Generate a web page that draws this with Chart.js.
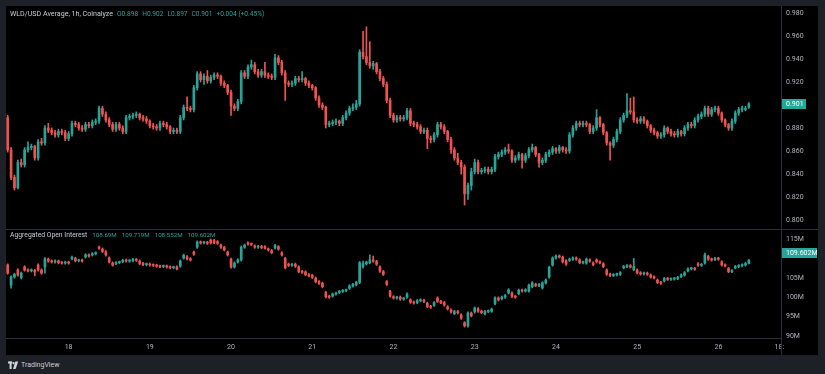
<!DOCTYPE html>
<html><head><meta charset="utf-8">
<script src="https://cdn.jsdelivr.net/npm/chart.js@4/dist/chart.umd.min.js"></script>
<style>
html,body{margin:0;padding:0;background:#1e2028;width:825px;height:374px;overflow:hidden;font-family:Roboto,"Liberation Sans",sans-serif;}
#pane{position:absolute;left:6px;top:6px;width:812px;height:349px;background:#000;}
#pc{position:absolute;left:6px;top:6px;}
#oc{position:absolute;left:6px;top:230px;}
#sep{position:absolute;left:6px;top:229px;width:812px;height:1px;background:#2a2e39;}
#vline{position:absolute;left:781px;top:338px;width:1px;height:17px;background:#2a2e39;}
.t{position:absolute;left:10px;font-size:7.1px;line-height:9px;white-space:pre;color:#c9ccd4;}
.t span{color:#26a69a;font-size:6.6px;margin-left:4px;}
.t.o span{font-size:6.2px;margin-left:5px;}
#foot{position:absolute;left:8px;top:360px;height:10px;}
#foot span{position:absolute;left:13px;top:0;font-size:7px;line-height:10px;color:#c9ccd4;white-space:pre;}
</style></head>
<body>
<div id="pane"></div>
<canvas id="pc" width="812" height="223"></canvas>
<div id="sep"></div>
<canvas id="oc" width="812" height="125"></canvas>
<div id="vline"></div>

<div class="t" style="top:9px;">WLD/USD Average, 1h, Coinalyze<span>O0.898</span><span>H0.902</span><span>L0.897</span><span>C0.901</span><span>+0.004 (+0.45%)</span></div>
<div class="t o" style="top:231px;font-size:6.8px;">Aggregated Open Interest<span>108.69M</span><span>109.719M</span><span>108.552M</span><span>109.602M</span></div>

<div id="foot"><svg width="11" height="9" viewBox="0 0 11 9" style="position:absolute;left:0;top:1px"><rect x="0" y="0.5" width="4.2" height="2" fill="#d1d4dc"/><rect x="1.6" y="0.5" width="2" height="7.5" fill="#d1d4dc"/><circle cx="5.6" cy="2.2" r="1.1" fill="#d1d4dc"/><polygon points="7.4,0.5 10.2,0.5 7.6,8 5,8" fill="#d1d4dc"/></svg><span>TradingView</span></div>

<script>
// ---------- data ----------
const startDay = 17, startHour = 6, slotCount = 229;
const dayTicks = ['18','19','20','21','22','23','24','25','26'];
const endTick = '18:';
const priceTicks = [0.80, 0.82, 0.84, 0.86, 0.88, 0.92, 0.94, 0.96, 0.98];
const oiTicks = [90, 95, 100, 105, 115];

const priceOpen = [
.889,.861,.837,.828,.850,.848,.861,.863,.864,.854,
.868,.867,.880,.878,.876,.874,.877,.876,.871,.875,
.884,.883,.880,.879,.883,.882,.885,.886,.897,.892,
.887,.883,.879,.883,.880,.877,.889,.890,.891,.892,
.889,.888,.886,.882,.881,.880,.884,.883,.881,.877,
.878,.877,.889,.898,.897,.896,.915,.927,.922,.925,
.921,.924,.926,.925,.919,.917,.911,.899,.897,.903,
.928,.925,.933,.935,.929,.926,.929,.926,.925,.924,
.941,.937,.928,.919,.918,.919,.923,.922,.923,.919,
.917,.915,.906,.900,.898,.883,.884,.885,.886,.884,
.889,.893,.897,.898,.901,.946,.942,.937,.934,.936,
.929,.923,.918,.904,.891,.887,.889,.888,.889,.895,
.884,.883,.881,.877,.878,.871,.870,.874,.883,.881,
.877,.870,.861,.854,.850,.846,.823,.830,.842,.850,
.842,.843,.844,.842,.844,.855,.857,.859,.861,.860,
.852,.854,.857,.852,.856,.861,.863,.857,.850,.852,
.857,.859,.862,.860,.863,.861,.860,.874,.880,.884,
.883,.884,.883,.877,.880,.889,.883,.876,.867,.865,
.870,.877,.887,.891,.895,.894,.887,.886,.888,.886,
.882,.878,.876,.873,.874,.880,.877,.875,.874,.877,
.875,.880,.883,.882,.887,.890,.892,.897,.892,.896,
.897,.893,.887,.883,.880,.886,.893,.896,.896,.898];
const priceHigh = [
.891,.863,.839,.852,.853,.863,.868,.866,.865,.870,
.871,.882,.884,.880,.878,.879,.879,.878,.877,.886,
.886,.885,.882,.885,.885,.887,.888,.899,.899,.894,
.889,.885,.885,.885,.882,.891,.892,.893,.894,.893,
.891,.890,.887,.884,.883,.886,.886,.885,.882,.880,
.880,.891,.900,.907,.899,.917,.929,.929,.927,.930,
.926,.928,.928,.926,.921,.918,.913,.901,.905,.930,
.930,.935,.939,.937,.931,.931,.937,.928,.927,.944,
.943,.939,.930,.921,.921,.925,.925,.929,.924,.921,
.918,.916,.908,.902,.899,.886,.887,.888,.887,.891,
.895,.899,.901,.904,.948,.964,.968,.955,.938,.937,
.931,.925,.920,.906,.893,.891,.891,.891,.897,.897,
.886,.885,.883,.880,.880,.873,.876,.885,.885,.883,
.878,.872,.863,.858,.852,.848,.832,.845,.853,.852,
.845,.846,.846,.846,.857,.859,.861,.863,.866,.861,
.856,.859,.858,.858,.863,.866,.864,.858,.854,.859,
.861,.864,.863,.865,.864,.863,.876,.882,.886,.886,
.886,.886,.884,.882,.896,.890,.884,.877,.868,.872,
.879,.889,.893,.910,.906,.907,.889,.890,.890,.887,
.883,.880,.877,.876,.882,.881,.879,.877,.879,.878,
.882,.885,.885,.889,.892,.894,.899,.899,.898,.899,
.899,.894,.888,.884,.888,.895,.898,.899,.899,.902];
const priceLow = [
.859,.835,.826,.827,.846,.846,.859,.861,.852,.852,
.865,.865,.876,.874,.872,.872,.874,.869,.869,.873,
.881,.878,.877,.877,.880,.880,.883,.884,.890,.885,
.881,.877,.877,.878,.875,.875,.887,.888,.889,.887,
.886,.884,.880,.879,.878,.878,.881,.879,.875,.875,
.875,.875,.887,.895,.894,.894,.913,.920,.918,.919,
.919,.922,.923,.917,.915,.909,.891,.895,.895,.901,
.923,.923,.931,.927,.924,.924,.924,.923,.922,.922,
.935,.926,.904,.916,.916,.917,.920,.920,.917,.915,
.913,.904,.898,.896,.880,.881,.882,.883,.882,.882,
.887,.891,.895,.896,.899,.940,.935,.932,.931,.927,
.921,.916,.902,.889,.885,.885,.886,.886,.887,.882,
.881,.879,.875,.875,.862,.867,.868,.872,.879,.875,
.868,.858,.852,.848,.840,.813,.818,.826,.840,.840,
.840,.841,.840,.840,.842,.853,.855,.857,.858,.850,
.850,.852,.845,.850,.854,.859,.855,.846,.848,.850,
.855,.857,.858,.858,.859,.858,.858,.872,.878,.881,
.881,.881,.875,.875,.878,.881,.874,.865,.852,.863,
.868,.875,.885,.889,.892,.885,.884,.884,.884,.880,
.876,.874,.871,.871,.872,.875,.873,.872,.872,.873,
.873,.878,.880,.880,.885,.888,.890,.890,.890,.894,
.891,.885,.881,.878,.878,.884,.891,.894,.895,.897];
const priceClose = [
.861,.837,.828,.850,.848,.861,.863,.864,.854,.868,
.867,.880,.878,.876,.874,.877,.876,.871,.875,.884,
.883,.880,.879,.883,.882,.885,.886,.897,.892,.887,
.883,.879,.883,.880,.877,.889,.890,.891,.892,.889,
.888,.886,.882,.881,.880,.884,.883,.881,.877,.878,
.877,.889,.898,.897,.896,.915,.927,.922,.925,.921,
.924,.926,.925,.919,.917,.911,.899,.897,.903,.928,
.925,.933,.935,.929,.926,.929,.926,.925,.924,.941,
.937,.928,.919,.918,.919,.923,.922,.923,.919,.917,
.915,.906,.900,.898,.883,.884,.885,.886,.884,.889,
.893,.897,.898,.901,.946,.942,.937,.934,.936,.929,
.923,.918,.904,.891,.887,.889,.888,.889,.895,.884,
.883,.881,.877,.878,.871,.870,.874,.883,.881,.877,
.870,.861,.854,.850,.846,.823,.830,.842,.850,.842,
.843,.844,.842,.844,.855,.857,.859,.861,.860,.852,
.854,.857,.852,.856,.861,.863,.857,.850,.852,.857,
.859,.862,.860,.863,.861,.860,.874,.880,.884,.883,
.884,.883,.877,.880,.889,.883,.876,.867,.865,.870,
.877,.887,.891,.895,.894,.887,.886,.888,.886,.882,
.878,.876,.873,.874,.880,.877,.875,.874,.877,.875,
.880,.883,.882,.887,.890,.892,.897,.892,.896,.897,
.893,.887,.883,.880,.886,.893,.896,.896,.897,.901];

const oiOpen = [
108.3,103.1,105.2,107.0,105.0,107.8,107.0,106.8,106.9,108.3,
107.0,107.8,109.8,109.3,109.1,109.3,108.9,108.8,109.0,109.9,
110.0,109.4,109.5,110.4,110.9,110.9,111.2,112.9,112.4,111.7,
110.1,108.8,108.7,108.9,109.2,109.5,109.3,109.4,109.7,109.3,
108.7,108.4,108.5,108.3,108.2,108.0,107.9,108.0,107.8,107.6,
107.8,108.0,110.1,110.4,109.9,111.6,112.9,114.2,114.0,114.1,
114.7,114.6,114.3,113.4,112.8,111.6,109.8,107.8,109.1,109.6,
112.9,114.0,113.7,113.2,112.9,113.1,113.0,112.4,112.0,112.7,
113.0,111.4,110.0,108.5,108.2,108.5,107.8,106.6,106.5,105.8,
105.6,104.9,104.0,103.6,101.2,100.2,100.3,100.8,101.2,101.5,
101.7,102.3,102.9,103.2,103.8,107.9,108.6,108.9,109.6,109.2,
107.8,106.6,104.0,101.5,100.1,99.8,100.0,99.5,100.0,99.3,
98.7,98.6,99.1,99.2,98.4,97.6,97.9,99.8,98.9,98.6,
97.5,96.7,95.8,96.3,95.4,93.4,92.6,95.9,96.2,97.0,
96.4,95.7,96.3,96.4,98.3,99.8,99.6,100.0,101.1,101.1,
100.2,100.9,101.8,101.6,101.6,102.7,103.3,103.0,102.4,103.7,
105.2,108.3,110.1,110.6,110.3,109.4,109.5,109.8,110.1,109.6,
108.9,108.8,109.6,108.8,109.6,109.1,108.6,107.0,105.9,105.6,
105.8,105.9,107.6,107.9,108.1,107.1,107.0,106.3,106.0,106.2,
105.7,105.2,104.4,103.8,104.2,104.8,104.6,104.7,104.8,105.3,
105.7,106.8,107.3,107.4,108.6,108.2,108.8,110.5,109.8,109.7,
110.0,109.1,108.3,107.4,106.6,107.6,107.9,108.1,108.3,108.69];
const oiHigh = [
108.6,105.5,106.2,107.3,106.5,108.1,107.3,107.3,107.2,108.6,
107.3,110.2,110.1,109.6,109.6,109.6,109.2,109.3,109.3,110.6,
110.3,109.8,109.8,111.2,111.2,111.5,111.7,113.2,112.7,112.0,
110.4,109.1,109.2,109.3,109.8,109.8,109.7,110.0,110.0,109.6,
109.0,108.8,108.8,108.6,108.5,108.3,108.3,108.3,108.1,108.0,
108.1,109.6,111.1,110.7,110.2,111.9,114.5,114.5,114.4,114.4,
115.0,114.9,114.6,113.7,113.1,111.9,110.1,109.1,109.9,113.2,
113.7,114.3,114.0,113.5,113.4,113.4,113.3,112.7,112.3,113.6,
113.3,111.7,110.3,108.8,108.7,108.8,108.1,106.9,106.8,106.1,
105.9,105.2,104.3,103.9,101.5,100.5,101.1,101.3,101.8,102.0,
102.1,103.2,103.6,104.1,109.2,109.3,109.3,110.9,110.6,109.5,
108.1,106.9,104.3,101.8,100.4,100.2,100.3,100.0,101.1,99.6,
99.0,99.4,99.6,99.5,98.7,97.9,98.9,100.1,99.2,98.9,
97.8,97.0,96.6,96.6,95.7,93.7,96.2,96.2,97.5,97.3,
96.7,96.6,96.7,97.2,100.1,100.1,100.3,100.7,102.2,101.4,
100.5,102.1,102.1,102.2,103.4,104.0,103.6,103.6,104.0,104.7,
108.0,110.4,110.9,110.9,110.6,109.7,110.1,110.4,110.4,109.9,
109.3,110.1,109.9,109.1,109.9,109.4,108.9,107.3,106.2,106.1,
106.2,106.6,108.2,108.4,108.4,110.0,107.3,106.6,106.5,106.5,
106.0,105.5,104.7,104.1,105.1,105.1,105.0,105.1,105.4,106.0,
106.6,107.6,107.7,107.7,108.9,108.7,111.4,110.8,110.1,110.3,
110.3,109.4,108.6,107.7,107.1,108.2,108.4,108.6,109.0,109.719];
const oiLow = [
105.9,102.3,104.9,105.4,104.7,106.7,106.5,106.5,105.5,106.7,
105.9,106.2,109.0,108.8,108.8,108.6,108.5,108.5,108.5,109.6,
109.1,109.1,109.0,110.1,110.3,110.6,110.9,112.3,111.5,110.6,
108.8,108.0,108.4,108.6,108.9,109.0,109.0,109.1,109.2,108.4,
108.1,108.1,108.0,107.9,107.7,107.6,107.6,107.5,107.3,107.3,
107.0,107.7,109.8,109.6,109.3,110.8,112.6,113.7,113.7,113.6,
113.7,113.8,113.6,112.6,111.9,110.6,107.5,107.5,108.8,109.3,
112.6,113.4,113.3,112.6,112.6,112.5,112.4,111.9,111.2,112.4,
112.1,110.6,107.3,107.9,107.9,107.7,106.3,106.1,105.5,105.2,
104.8,103.7,103.3,102.4,99.8,99.7,100.0,100.5,100.9,101.2,
101.4,102.0,102.6,102.9,103.5,107.5,108.3,108.6,109.0,108.2,
106.4,105.6,103.0,100.0,99.5,99.5,99.2,99.2,99.7,98.4,
98.2,98.3,98.8,98.6,97.3,97.1,97.6,98.6,98.3,97.7,
96.7,95.9,95.5,95.7,94.3,92.3,92.3,94.9,95.9,96.1,
95.7,95.4,96.0,96.1,98.0,99.0,99.3,99.7,100.8,99.9,
99.7,100.6,101.3,101.3,101.3,102.4,102.7,102.7,102.1,103.4,
104.9,108.0,109.8,110.1,108.8,108.2,109.2,109.5,109.5,108.6,
108.6,108.5,109.0,108.1,108.8,108.6,107.6,105.6,105.3,105.3,
105.5,105.6,107.3,107.6,107.5,106.8,106.0,105.7,105.7,105.6,
104.9,104.7,103.5,103.3,103.9,104.3,104.3,104.4,104.5,105.0,
105.4,106.5,107.0,106.9,107.9,107.9,108.5,109.5,109.3,109.4,
109.5,108.0,107.8,106.3,106.3,107.3,107.6,107.8,108.0,108.552];
const oiClose = [
106.2,105.2,105.9,105.7,106.2,107.0,106.8,107.0,106.5,107.0,
106.2,109.9,109.3,109.1,109.3,108.9,108.8,109.0,108.8,110.3,
109.4,109.5,109.3,110.9,110.6,111.2,111.4,112.6,111.8,110.9,
109.1,108.3,108.9,109.0,109.5,109.3,109.4,109.7,109.5,108.7,
108.4,108.5,108.3,108.2,108.0,107.9,108.0,107.8,107.6,107.7,
107.3,109.3,110.8,109.9,109.6,111.1,114.2,114.0,114.1,113.9,
114.0,114.1,113.9,112.9,112.2,110.9,107.8,108.8,109.6,112.9,
113.4,113.7,113.6,112.9,113.1,112.8,112.7,112.2,111.5,113.3,
112.4,110.9,107.6,108.2,108.4,108.0,106.6,106.4,105.8,105.5,
105.1,104.0,103.6,102.7,100.1,100.0,100.8,101.0,101.5,101.7,
101.8,102.9,103.3,103.8,108.9,108.6,109.0,109.6,109.3,108.5,
106.7,105.9,103.3,100.3,99.8,99.9,99.5,99.7,100.8,98.7,
98.5,99.1,99.3,98.9,97.6,97.4,98.6,98.9,98.6,98.0,
97.0,96.2,96.3,96.0,94.6,92.6,95.9,95.2,97.2,96.4,
96.0,96.3,96.4,96.9,99.8,99.3,100.0,100.4,101.9,100.2,
100.0,101.8,101.6,101.9,103.1,103.7,103.0,103.3,103.7,104.4,
107.7,110.1,110.6,110.4,109.1,108.5,109.8,110.1,109.8,108.9,
109.0,109.8,109.3,108.4,109.1,108.9,107.9,105.9,105.6,105.8,
105.9,106.3,107.9,108.1,107.8,107.9,106.3,106.0,106.2,105.9,
105.2,105.0,103.8,103.6,104.8,104.6,104.7,104.8,105.1,105.7,
106.3,107.3,107.4,107.2,108.2,108.4,110.9,109.8,109.6,110.0,
109.8,108.3,108.1,106.6,106.8,107.9,108.1,108.3,108.69,109.602];

// ---------- chart ----------
const UP = '#26a69a', DOWN = '#ef5350';
const AXIS_TXT = '#b2b5be', LINE = '#2a2e39';
Chart.defaults.font.family = 'Roboto, "Liberation Sans", sans-serif';
Chart.defaults.font.size = 7;
Chart.defaults.color = AXIS_TXT;

const timeLabels = [];
for (let i = 0; i < slotCount; i++) {
  const t = startHour + i;
  timeLabels.push((startDay + Math.floor(t / 24)) + ' ' + String(t % 24).padStart(2, '0') + ':00');
}

function candleSets(o, h, l, c) {
  const col = c.map((v, i) => v >= o[i] ? UP : DOWN);
  return [
    { data: l.map((v, i) => [v, h[i]]), backgroundColor: col, barThickness: 1, grouped: false, borderWidth: 0, minBarLength: 1 },
    { data: o.map((v, i) => [v, c[i]]), backgroundColor: col, barThickness: 2, grouped: false, borderWidth: 0, minBarLength: 1 }
  ];
}

const lastBox = {
  id: 'lastBox',
  afterDraw(chart, args, opts) {
    const ctx = chart.ctx, s = chart.scales.y;
    const y = Math.round(s.getPixelForValue(opts.value) + opts.dy);
    const x = chart.chartArea.right + 1;
    ctx.save();
    ctx.fillStyle = UP;
    ctx.fillRect(x, y - 5, opts.w, 10);
    ctx.fillStyle = '#ffffff';
    ctx.font = '7px Roboto, "Liberation Sans", sans-serif';
    ctx.textBaseline = 'middle';
    ctx.textAlign = 'left';
    ctx.fillText(opts.text, x + 4, y + 0.5);
    ctx.restore();
  }
};

function noPad(s) { s.paddingTop = 0; s.paddingBottom = 0; s.paddingLeft = 0; s.paddingRight = 0; }

function xScale(show) {
  return {
    type: 'category', display: show, offset: true,
    grid: { display: false, drawTicks: false },
    border: { display: show, color: LINE },
    ticks: {
      autoSkip: false, maxRotation: 0, padding: 5, color: AXIS_TXT,
      callback: (v, idx) => {
        const lab = timeLabels[idx];
        const parts = lab.split(' ');
        if (parts[1] === '00:00' && dayTicks.includes(parts[0])) return parts[0];
        if (lab === '26 18:00') return endTick;
        return null;
      }
    },
    afterFit: s => { s.height = show ? 17 : 0; noPad(s); }
  };
}

function yScale(min, max, ticks, fmt) {
  return {
    position: 'right', min, max,
    grid: { display: false, drawTicks: false },
    border: { display: true, color: LINE },
    ticks: { padding: 5, color: AXIS_TXT, callback: fmt },
    afterBuildTicks: s => { s.ticks = ticks.map(v => ({ value: v })); },
    afterFit: s => { s.width = 37; noPad(s); }
  };
}

const last = priceClose.length - 1;

new Chart(document.getElementById('pc'), {
  type: 'bar',
  data: { labels: timeLabels, datasets: candleSets(priceOpen, priceHigh, priceLow, priceClose) },
  options: {
    responsive: false, animation: false, devicePixelRatio: 1,
    layout: { padding: 0 },
    plugins: { legend: { display: false }, tooltip: { enabled: false },
      lastBox: { value: priceClose[last], text: priceClose[last].toFixed(3), w: 24, dy: 0 } },
    scales: { x: xScale(false), y: yScale(0.79217, 0.98609, priceTicks, v => v.toFixed(3)) }
  },
  plugins: [lastBox]
});

new Chart(document.getElementById('oc'), {
  type: 'bar',
  data: { labels: timeLabels, datasets: candleSets(oiOpen, oiHigh, oiLow, oiClose) },
  options: {
    responsive: false, animation: false, devicePixelRatio: 1,
    layout: { padding: 0 },
    plugins: { legend: { display: false }, tooltip: { enabled: false },
      lastBox: { value: oiClose[last], text: oiClose[last].toFixed(3) + 'M', w: 35, dy: -7 } },
    scales: { x: xScale(true), y: yScale(89.48, 117.32, oiTicks, v => v + 'M') }
  },
  plugins: [lastBox]
});
</script>
</body></html>
